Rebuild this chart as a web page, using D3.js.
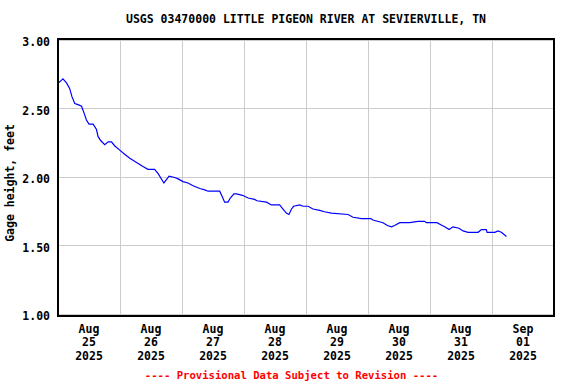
<!DOCTYPE html>
<html>
<head>
<meta charset="utf-8">
<script src="https://cdn.jsdelivr.net/npm/d3@7"></script>
<style>
  body { margin: 0; background: #fff; }
  text { font-family: "DejaVu Sans Mono", "Liberation Mono", monospace; font-weight: bold; }
</style>
</head>
<body>
<div class="chart"></div>
<script>
var svgWidth = 576;
var svgHeight = 384;

// plot box edges
var box = { left: 58, right: 554, top: 39, bottom: 316 };

// hours since 2025-08-25 00:00 and gage height (feet)
var hours = [0, 0.8, 1.9, 3.3, 4.5, 5.4, 6.5, 8.0, 9.1, 10.1, 11.0, 12.0, 13.6, 14.9, 15.5,
  16.5, 18.1, 19.4, 20.7, 22.0, 23.9, 25.8, 27.8, 30.4, 32.9, 34.8, 37.4, 38.7, 41.0, 43.0,
  45.2, 46.5, 48.4, 50.3, 52.3, 54.9, 56.8, 58.1, 62.6, 63.6, 64.5, 65.8, 66.7, 68.1, 69.1,
  71.4, 73.6, 76.1, 77.0, 80.7, 82.6, 85.8, 87.1, 88.4, 89.4, 90.4, 91.2, 93.6, 94.8, 96.8,
  98.7, 101.3, 103.2, 105.8, 112.3, 114.2, 117.5, 121.1, 121.9, 125.8, 127.5, 129.1, 130.3,
  132.3, 136.1, 139.4, 141.9, 142.6, 146.7, 148.7, 149.7, 151.4, 152.9, 155.2, 156.8, 158.7,
  162.6, 163.9, 165.8, 166.1, 169.1, 170.3, 171.6, 172.9, 173.6];
var gage = [2.69, 2.70, 2.72, 2.69, 2.65, 2.59, 2.54, 2.53, 2.52, 2.47, 2.42, 2.39, 2.39, 2.35, 2.30,
  2.27, 2.24, 2.26, 2.26, 2.23, 2.20, 2.17, 2.14, 2.11, 2.08, 2.06, 2.06, 2.03, 1.96, 2.01,
  2.00, 1.99, 1.97, 1.96, 1.94, 1.92, 1.91, 1.90, 1.90, 1.86, 1.82, 1.82, 1.85, 1.88, 1.88,
  1.87, 1.85, 1.84, 1.83, 1.82, 1.80, 1.80, 1.77, 1.74, 1.73, 1.77, 1.79, 1.80, 1.79, 1.79,
  1.77, 1.76, 1.75, 1.74, 1.73, 1.71, 1.70, 1.70, 1.69, 1.67, 1.65, 1.64, 1.65,
  1.67, 1.67, 1.68, 1.68, 1.67, 1.67, 1.65, 1.64, 1.62, 1.64, 1.63, 1.61, 1.60,
  1.60, 1.62, 1.62, 1.60, 1.60, 1.61, 1.60, 1.58, 1.57];

var yTicks = [1.00, 1.50, 2.00, 2.50, 3.00];
var dayTicks = ["Aug 25 2025", "Aug 26 2025", "Aug 27 2025", "Aug 28 2025",
  "Aug 29 2025", "Aug 30 2025", "Aug 31 2025", "Sep 01 2025"];

var start = Date.UTC(2025, 7, 25);
var data = hours.map((h, i) => ({ t: new Date(start + h * 3600000), v: gage[i] }));

var svg = d3.select(".chart")
  .append("svg")
  .attr("width", svgWidth)
  .attr("height", svgHeight);

var x = d3.scaleUtc()
  .domain([new Date(start), new Date(Date.UTC(2025, 8, 2))])
  .range([box.left, box.right]);

var y = d3.scaleLinear()
  .domain([1, 3])
  .range([314.5, 40.5]);

// gridlines
var days = d3.utcDay.range(new Date(start), new Date(Date.UTC(2025, 8, 2)));
svg.append("g")
  .selectAll("line")
  .data(days.slice(1))
  .enter()
  .append("line")
  .attr("x1", d => Math.round(x(d)) + 0.5)
  .attr("x2", d => Math.round(x(d)) + 0.5)
  .attr("y1", box.top)
  .attr("y2", box.bottom)
  .attr("stroke", "#cccccc");

svg.append("g")
  .selectAll("line")
  .data(yTicks)
  .enter()
  .append("line")
  .attr("x1", box.left)
  .attr("x2", box.right)
  .attr("y1", d => Math.round(y(d)) - 0.5)
  .attr("y2", d => Math.round(y(d)) - 0.5)
  .attr("stroke", "#cccccc");

// data line
var line = d3.line()
  .x(d => x(d.t))
  .y(d => y(d.v));

svg.append("path")
  .datum(data)
  .attr("d", line)
  .attr("fill", "none")
  .attr("stroke", "#0000ff")
  .attr("stroke-width", 1.2);

// plot border
svg.append("rect")
  .attr("x", box.left)
  .attr("y", box.top)
  .attr("width", box.right - box.left)
  .attr("height", box.bottom - box.top)
  .attr("fill", "none")
  .attr("stroke", "#000")
  .attr("stroke-width", 2);

// y tick labels
svg.append("g")
  .selectAll("text")
  .data(yTicks)
  .enter()
  .append("text")
  .attr("x", 50)
  .attr("y", d => y(d) + 5.5)
  .attr("text-anchor", "end")
  .attr("font-size", "11.5px")
  .text(d => d.toFixed(2));

// x tick labels, centred at noon of each day
var xLabels = svg.append("g")
  .selectAll("text")
  .data(dayTicks)
  .enter()
  .append("text")
  .attr("text-anchor", "middle")
  .attr("font-size", "11.5px");

xLabels.each(function(d, i) {
  var cx = x(new Date(start + (i + 0.5) * 86400000));
  var parts = d.split(" ");
  var t = d3.select(this);
  parts.forEach(function(p, j) {
    t.append("tspan")
      .attr("x", cx)
      .attr("y", 332.5 + j * 13.7)
      .text(p);
  });
});

// title
svg.append("text")
  .attr("x", (box.left + box.right) / 2)
  .attr("y", 23)
  .attr("text-anchor", "middle")
  .attr("font-size", "11.5px")
  .text("USGS 03470000 LITTLE PIGEON RIVER AT SEVIERVILLE, TN");

// y axis title
svg.append("text")
  .attr("transform", "translate(14, 183) rotate(-90)")
  .attr("text-anchor", "middle")
  .attr("font-size", "11.5px")
  .text("Gage height, feet");

// provisional note
svg.append("text")
  .attr("x", 291.5)
  .attr("y", 379)
  .attr("text-anchor", "middle")
  .attr("font-size", "10.6px")
  .attr("fill", "#ff0000")
  .text("---- Provisional Data Subject to Revision ----");
</script>
</body>
</html>
